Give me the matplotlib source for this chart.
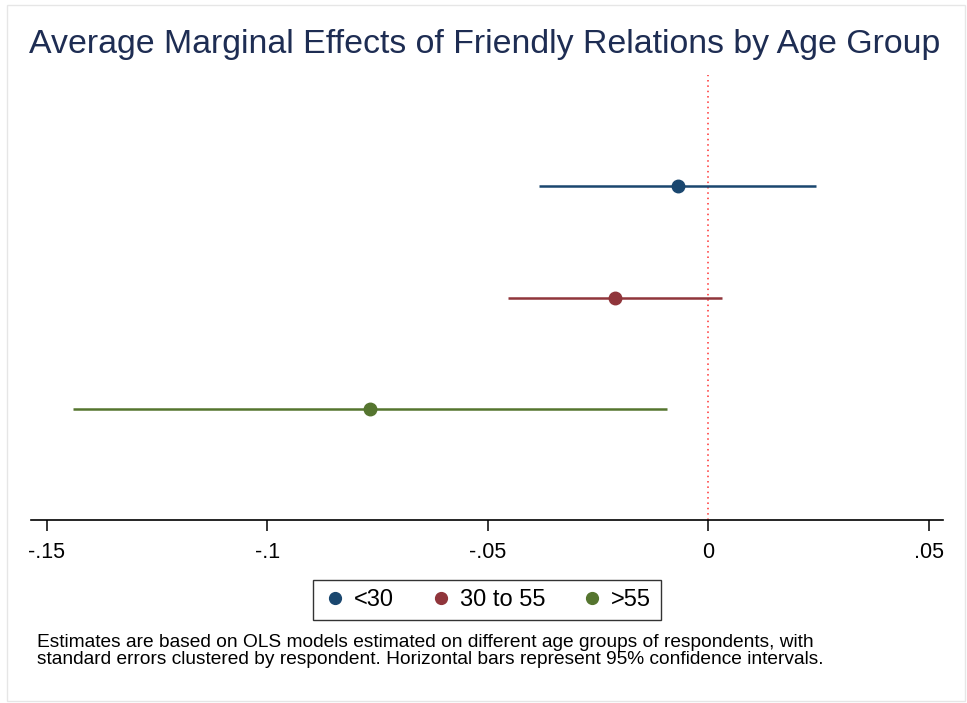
import matplotlib
matplotlib.use('Agg')
import matplotlib.pyplot as plt
import matplotlib.patches as mpatches
from matplotlib.lines import Line2D

# Estimates and 95% CIs by age group
groups = ['<30', '30 to 55', '>55']
estimates = [-0.0070, -0.0212, -0.0767]
ci_low = [-0.0384, -0.0455, -0.1441]
ci_high = [0.0244, 0.0032, -0.0093]
ypos = [1, 2, 3]
xticks = [-0.15, -0.1, -0.05, 0, 0.05]
xticklabels = ['-.15', '-.1', '-.05', '0', '.05']

COLORS = ['#1a476f', '#90353b', '#55752f']
TITLE_COLOR = '#1e2d53'
FONT = 'Liberation Sans'

plt.rcParams['font.family'] = [FONT, 'DejaVu Sans']

fig = plt.figure(figsize=(9.67, 7.03), dpi=100)
fig.patch.set_facecolor('white')
ax = fig.add_axes([31 / 967, 1 - 520 / 703, (943 - 31) / 967, (520 - 75) / 703])

for y, est, lo, hi, c in zip(ypos, estimates, ci_low, ci_high, COLORS):
    ax.plot([lo, hi], [y, y], color=c, linewidth=1.8, solid_capstyle='butt', zorder=2)
    ax.plot(est, y, 'o', color=c, markersize=9, zorder=3)

ax.axvline(0, color='#ff3030', linestyle=(0, (1, 2.5)), linewidth=1.1, zorder=1)

ax.set_xlim(-0.1536, 0.0532)
ax.set_ylim(4, 0)
ax.set_yticks([])
for s in ['top', 'right', 'left']:
    ax.spines[s].set_visible(False)
ax.spines['bottom'].set_linewidth(1.2)
ax.set_xticks(xticks)
ax.set_xticklabels(xticklabels, fontsize=15.5)
ax.tick_params(axis='x', length=8, width=1.1, pad=8, colors='black')

fig.text(29 / 967, 1 - 44 / 703, 'Average Marginal Effects of Friendly Relations by Age Group',
         fontsize=24.4, color=TITLE_COLOR, ha='left', va='center')

handles = [Line2D([], [], marker='o', linestyle='none', color=c, markersize=8.5) for c in COLORS]
leg = fig.legend(handles, groups, loc='center', bbox_to_anchor=(487 / 967, 1 - 600 / 703),
                 ncol=3, frameon=True, fancybox=False, fontsize=17, handletextpad=0.3,
                 columnspacing=1.5, borderpad=0.4, handlelength=1.0)
leg.get_frame().set_edgecolor('black')
leg.get_frame().set_linewidth(1.0)

fig.text(37 / 967, 1 - 651 / 703,
         'Estimates are based on OLS models estimated on different age groups of respondents, with\n'
         'standard errors clustered by respondent. Horizontal bars represent 95% confidence intervals.',
         fontsize=13.8, color='black', ha='left', va='center', linespacing=0.95)

# light outer frame
fig.patches.append(mpatches.Rectangle((7 / 967, 1 - 701 / 703), (965 - 7) / 967, (701 - 5) / 703,
                                      transform=fig.transFigure, fill=False,
                                      edgecolor='#e6e6e6', linewidth=1.0))

fig.savefig('out.png', dpi=100, facecolor='white')
plt.close(fig)
